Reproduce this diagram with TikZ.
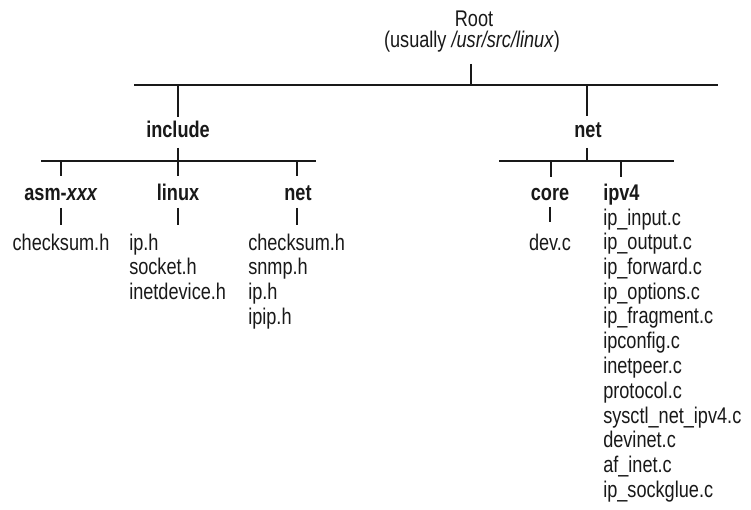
\documentclass[tikz,border=0pt]{standalone}
\usepackage{fontspec}
\setmainfont{Liberation Sans}[FakeStretch=0.8]
\newcommand{\fsz}{\fontsize{17}{19}\selectfont}
\tikzset{
  lbl/.style={font=\fsz, inner sep=0pt, anchor=base, text=black!90},
  hd/.style={lbl, font=\fsz\bfseries},
  file/.style={lbl, anchor=base west},
  wire/.style={line width=2pt, draw=black!90}
}
\begin{document}
\begin{tikzpicture}[x=0.75pt,y=-0.75pt]
\path[use as bounding box, fill=white] (0,0) rectangle (751,510);
% labels
\node[lbl] (root) at (474,27) {Root};
\node[lbl] (rootsub) at (472,48) {(usually \textit{/usr/src/linux})};
\node[hd] (include) at (178,138) {include};
\node[hd] (net) at (588,138) {net};
\node[hd] (asm) at (61,200) {asm-\textit{xxx}};
\node[hd] (linux) at (178,200) {linux};
\node[hd] (inet) at (298,200) {net};
\node[hd] (core) at (550,200) {core};
\node[hd, anchor=base west] (ipv4) at (603,200) {ipv4};
\node[lbl] (asmf) at (61,250) {checksum.h};
\node[lbl] (devc) at (550,250) {dev.c};
\foreach \t [count=\i from 0] in {ip.h,socket.h,inetdevice.h}
  \node[file] (lx\i) at (129,250+24.75*\i) {\t};
\foreach \t [count=\i from 0] in {checksum.h,snmp.h,ip.h,ipip.h}
  \node[file] (nf\i) at (248,250+24.75*\i) {\t};
\foreach \t [count=\i from 0] in {ip\_input.c,ip\_output.c,ip\_forward.c,ip\_options.c,ip\_fragment.c,ipconfig.c,inetpeer.c,protocol.c,sysctl\_net\_ipv4.c,devinet.c,af\_inet.c,ip\_sockglue.c}
  \node[file] (v\i) at (603,225+24.75*\i) {\t};
% coordinates
\coordinate (rtA) at (471,64);   \coordinate (rtB) at (471,85);
\coordinate (barL) at (134,85);  \coordinate (barR) at (718,85);
\coordinate (inA) at (178,85);   \coordinate (inB) at (178,117);
\coordinate (ntA) at (587,85);   \coordinate (ntB) at (587,116);
\coordinate (inC) at (178,148);  \coordinate (inD) at (178,176);
\coordinate (ibL) at (41,161);   \coordinate (ibR) at (316,161);
\coordinate (asA) at (61,161);   \coordinate (asB) at (61,176);
\coordinate (nnA) at (297,161);  \coordinate (nnB) at (297,176);
\coordinate (asC) at (61,208);   \coordinate (asD) at (61,225);
\coordinate (lxC) at (178,208);  \coordinate (lxD) at (178,225);
\coordinate (nnC) at (297,208);  \coordinate (nnD) at (297,225);
\coordinate (ntC) at (587,148);  \coordinate (ntD) at (587,161);
\coordinate (nbL) at (499,161);  \coordinate (nbR) at (674,161);
\coordinate (coA) at (551,161);  \coordinate (coB) at (551,177);
\coordinate (ipA) at (621,161);  \coordinate (ipB) at (621,177);
\coordinate (coC) at (550,207);  \coordinate (coD) at (550,222);
% wires
\draw[wire] (barL) -- (barR);
\draw[wire] (rtA) -- (rtB);
\draw[wire] (inA) -- (inB);
\draw[wire] (ntA) -- (ntB);
\draw[wire] (ibL) -- (ibR);
\draw[wire] (inC) -- (inD);
\draw[wire] (asA) -- (asB);
\draw[wire] (nnA) -- (nnB);
\draw[wire] (asC) -- (asD);
\draw[wire] (lxC) -- (lxD);
\draw[wire] (nnC) -- (nnD);
\draw[wire] (nbL) -- (nbR);
\draw[wire] (ntC) -- (ntD);
\draw[wire] (coA) -- (coB);
\draw[wire] (ipA) -- (ipB);
\draw[wire] (coC) -- (coD);
\end{tikzpicture}
\end{document}
